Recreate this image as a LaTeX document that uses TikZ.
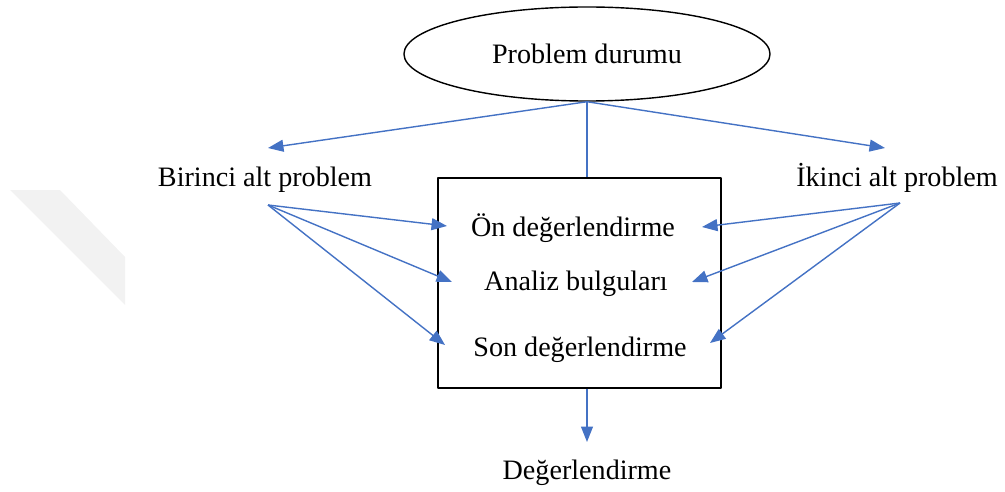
\documentclass[tikz,border=0pt]{standalone}
\usepackage{fontspec}
\setmainfont{Liberation Serif}
\usetikzlibrary{shapes.geometric,arrows.meta}
\definecolor{okmavi}{RGB}{68,114,196}
\begin{document}
\begin{tikzpicture}[x=0.025cm,y=-0.025cm,font=\fontsize{20}{24}\selectfont, line join=round, >={Triangle[length=11pt,width=8.5pt]},
	ok/.style={draw=okmavi,line width=1pt}]
	\useasboundingbox (0,0) rectangle (1005,492);
	% soluk filigran
	\fill[gray!10] (10,190)--(60,190)--(125,257)--(125,305)--cycle;
	\node[draw,ellipse,line width=1pt,minimum width=9.15cm,minimum height=2.35cm] (pd) at (587,54) {Problem durumu};
	\node[draw,line width=1pt,minimum width=7.075cm,minimum height=5.25cm] (kutu) at (579.5,283) {};
	\node (bir) at (265,180) {Birinci alt problem};
	\node (iki) at (897,178) {İkinci alt problem};
	\node (deg) at (587,473) {Değerlendirme};
	\foreach \n/\x/\y/\t in {on/573/228/Ön değerlendirme, an/576/284/Analiz bulguları, son/580/350/Son değerlendirme}
		\node (\n) at (\x,\y) {\t};
	\coordinate (bo) at (268,205);
	\coordinate (io) at (900,203);
	\coordinate (ts) at (268,148);
	\coordinate (ta) at (885,148);
	\coordinate (da) at (587,442);
	\draw[ok,->] (pd.south)--(ts);
	\draw[ok,->] (pd.south)--(ta);
	\draw[ok] (pd.south)--(pd.south |- kutu.north);
	\draw[ok,->] (pd.south |- kutu.south)--(da);
	\foreach \i/\a/\b/\c/\d in {1/447/226/702/227, 2/452/282/692/282, 3/445/345/710/343}
		{\coordinate (l\i) at (\a,\b);
		\coordinate (r\i) at (\c,\d);
		\draw[ok,->] (bo)--(l\i);
		\draw[ok,->] (io)--(r\i);
		}
\end{tikzpicture}
\end{document}
